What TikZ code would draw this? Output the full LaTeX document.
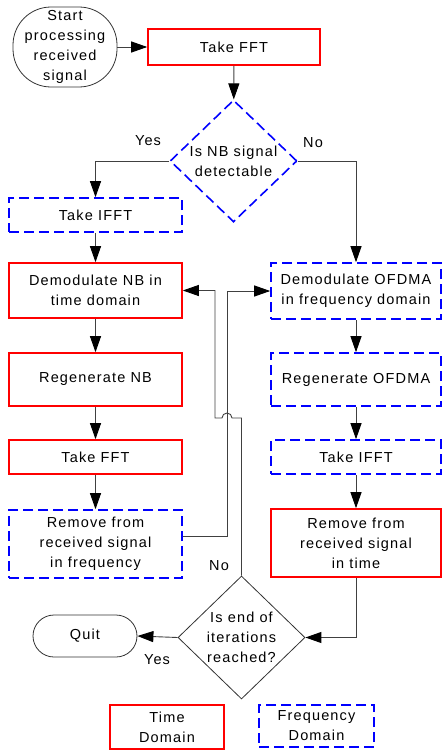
\documentclass[tikz,border=0pt]{standalone}
\usepackage{fontspec}
\setmainfont{Liberation Sans}[LetterSpace=8]
\usetikzlibrary{shapes.geometric,arrows.meta,calc}
\begin{document}
\begin{tikzpicture}[x=1pt,y=-1pt,
  every node/.style={font=\fontsize{14.5}{20}\selectfont, align=center, inner sep=0pt},
  tbox/.style={draw=red, line width=1.6pt, rectangle},
  fbox/.style={draw=blue, line width=1.6pt, dash pattern=on 10pt off 5pt},
  plain/.style={draw=black!75, line width=0.9pt},
  conn/.style={plain, -{Triangle[length=16pt,width=11pt,black]}},
  lbl/.style={font=\fontsize{14.5}{20}\selectfont}
]
\useasboundingbox (0,0) rectangle (442,752);

\node[draw=black!80, line width=0.8pt, rounded corners=38pt, minimum width=104pt, minimum height=80pt] (start) at (65,47) {Start\\processing\\received\\signal};
\node[tbox, minimum width=172pt, minimum height=36pt] (fft) at (234,47) {Take FFT};
\node[diamond, fbox, minimum width=127pt, minimum height=122pt] (d1) at (233.5,161) {Is NB signal\\detectable};

\node[fbox, minimum width=173pt, minimum height=34pt] (ifft) at (95.5,215) {Take IFFT};
\node[tbox, minimum width=173pt, minimum height=55pt] (dnb) at (95.5,290.5) {Demodulate NB in\\time domain};
\node[tbox, minimum width=173pt, minimum height=53pt] (rnb) at (95.5,379.5) {Regenerate NB};
\node[tbox, minimum width=173pt, minimum height=34pt] (fft2) at (95.5,457) {Take FFT};
\node[fbox, minimum width=173pt, minimum height=68pt] (remf) at (95.5,544) {Remove from\\received signal\\in frequency};

\node[fbox, minimum width=170pt, minimum height=56pt] (demo) at (356,291) {Demodulate OFDMA\\in frequency domain};
\node[fbox, minimum width=170pt, minimum height=53pt] (rego) at (356,379.5) {Regenerate OFDMA};
\node[fbox, minimum width=170pt, minimum height=34pt] (ifft2) at (356,457) {Take IFFT};
\node[tbox, minimum width=170pt, minimum height=68pt] (remt) at (356,543) {Remove from\\received signal\\in time};

\node[diamond, draw=black!80, line width=0.8pt, minimum width=127pt, minimum height=123pt] (d2) at (241.5,637.5) {Is end of\\iterations\\reached?};
\node[draw=black!80, line width=0.8pt, rounded corners=21pt, minimum width=104pt, minimum height=42pt] (quit) at (85,636) {Quit};

\node[tbox, minimum width=114pt, minimum height=44pt] (td) at (167,727) {Time\\Domain};
\node[fbox, minimum width=115pt, minimum height=42pt] (fd) at (316.5,726) {Frequency\\Domain};

\node[lbl] (yes1) at (148,141) {Yes};
\node[lbl] (no1) at (313,143) {No};
\node[lbl] (no2) at (219,566) {No};
\node[lbl] (yes2) at (157,660) {Yes};

\draw[conn] (start) -- (fft);
\draw[conn] (fft) -- (d1);
\draw[conn] (d1.west) -| (ifft.north);
\draw[conn] (d1.east) -| (demo.north);
\draw[conn] (ifft) -- (dnb);
\draw[conn] (dnb) -- (rnb);
\draw[conn] (rnb) -- (fft2);
\draw[conn] (fft2) -- (remf);
\draw[conn] (demo) -- (rego);
\draw[conn] (rego) -- (ifft2);
\draw[conn] (ifft2) -- (remt);
\draw[conn] (remt.south) |- (d2.east);
\draw[conn] (d2.west) -- (quit.east);
\draw[conn] ([yshift=8pt]remf.east) -- ++(45,0) |- (demo.west);
\draw[conn] (d2.north) -- (241.5,418) -- (232,418) arc[start angle=0,end angle=-180,radius=5] -- (215,418) |- (dnb.east);
\end{tikzpicture}
\end{document}
